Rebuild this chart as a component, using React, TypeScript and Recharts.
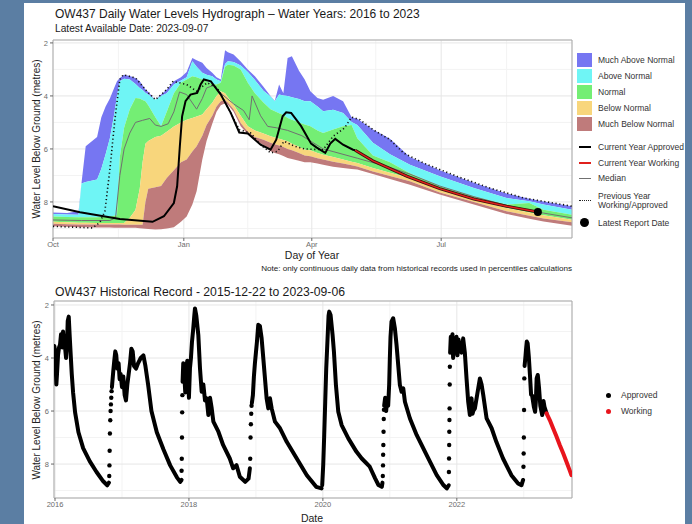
import React from "react";
import {
  ComposedChart,
  Area,
  Line,
  Scatter,
  XAxis,
  YAxis,
  CartesianGrid,
  ReferenceDot,
  ReferenceArea,
} from "recharts";

const FONT = "'Liberation Sans', Arial, Helvetica, sans-serif";

// ---------- hydrograph (top panel) ----------
const monthTicks = [0, 92, 182, 273];
const monthLabels = ["Oct", "Jan", "Apr", "Jul"];
const monthMinor = [46, 137, 227, 319];
const levelTicks = [2, 4, 6, 8];
const levelMinor = [3, 5, 7, 9];

const dayOfYear = [
  0, 10, 18, 20, 23, 31, 34, 37, 40, 43, 45, 47, 50, 54, 58, 61, 63, 65, 67, 72, 76, 80, 85, 90, 94, 98, 101, 105,
  108, 112, 115, 118, 121, 123, 127, 132, 137, 142, 148, 153, 156, 159, 162, 165, 168, 173, 177, 181, 186, 190, 197,
  204, 210, 214, 225, 237, 251, 272, 296, 319, 335, 345, 365,
];
const pMin = [
  8.4, 8.42, 8.35, 7.3, 5.9, 5.55, 4.8, 4.4, 4.1, 3.7, 3.45, 3.32, 3.2, 3.25, 3.32, 3.45, 3.6, 3.75, 3.85, 4.14, 3.95,
  3.76, 3.45, 3.3, 3.1, 2.57, 2.65, 2.75, 2.95, 3.13, 3.3, 3.38, 2.28, 2.35, 2.44, 2.7, 3.0, 3.26, 3.65, 4.0, 4.18,
  3.57, 3.9, 2.57, 2.5, 3.05, 3.38, 3.82, 4.08, 4.14, 4.0, 4.2, 4.8, 4.86, 5.27, 5.62, 6.3, 6.8, 7.28, 7.68, 7.88,
  7.98, 8.16,
];
const p10 = [
  8.45, 8.47, 8.48, 7.3, 7.25, 7.15, 6.75, 6.2, 5.6, 4.7, 4.0, 3.45, 3.35, 3.38, 3.55, 3.7, 3.78, 3.88, 3.95, 4.14,
  4.0, 3.9, 3.57, 3.42, 3.3, 2.69, 2.9, 3.13, 3.2, 3.26, 3.38, 3.45, 2.8, 2.69, 2.72, 2.85, 3.1, 3.4, 3.8, 4.02, 4.2,
  3.95, 3.98, 4.0, 4.05, 4.12, 4.2, 4.2, 4.4, 4.58, 4.52, 4.64, 4.98, 5.1, 5.77, 6.2, 6.6, 7.03, 7.47, 7.85, 7.97,
  8.1, 8.29,
];
const p25 = [
  8.55, 8.57, 8.58, 8.58, 8.58, 8.58, 8.57, 8.56, 8.55, 8.52, 8.5, 6.3, 5.2, 4.5, 4.08, 4.1, 4.15, 4.2, 4.35, 4.8,
  5.14, 4.6, 3.9, 3.5, 3.38, 3.26, 3.3, 3.38, 3.45, 3.55, 3.57, 3.5, 2.9, 2.82, 2.85, 3.0, 3.5, 3.9, 4.25, 4.5, 4.58,
  4.65, 4.72, 4.83, 4.9, 5.0, 5.08, 5.14, 5.3, 5.4, 5.27, 5.14, 5.1, 5.6, 6.25, 6.5, 6.92, 7.41, 7.79, 8.1, 8.04,
  8.29, 8.48,
];
const p75 = [
  8.75, 8.77, 8.78, 8.78, 8.78, 8.79, 8.79, 8.79, 8.79, 8.79, 8.79, 8.79, 8.79, 8.6, 8.3, 7.5, 6.5, 5.8, 5.7, 5.55,
  5.5, 5.35, 5.15, 5.0, 4.9, 4.83, 4.78, 4.7, 4.5, 4.26, 4.0, 3.82, 3.9, 4.05, 4.33, 4.75, 5.14, 5.3, 5.42, 5.52,
  5.57, 5.62, 5.66, 5.71, 5.8, 5.92, 6.03, 6.05, 6.15, 6.22, 6.3, 6.4, 6.48, 6.53, 6.72, 6.9, 7.1, 7.53, 7.91, 8.23,
  8.4, 8.5, 8.67,
];
const p90 = [
  8.82, 8.84, 8.85, 8.85, 8.85, 8.85, 8.85, 8.85, 8.85, 8.85, 8.85, 8.85, 8.86, 8.86, 8.86, 8.86, 8.86, 8.0, 7.5,
  7.45, 7.4, 7.1, 6.8, 6.5, 6.4, 6.1, 5.9, 5.5, 5.1, 4.75, 4.4, 4.2, 4.15, 4.25, 4.5, 5.02, 5.35, 5.55, 5.65, 5.77,
  5.82, 5.87, 5.93, 6.0, 6.05, 6.15, 6.25, 6.28, 6.35, 6.4, 6.48, 6.55, 6.62, 6.66, 6.85, 7.02, 7.22, 7.64, 8.0,
  8.35, 8.52, 8.62, 8.77,
];
const pMax = [
  8.92, 8.94, 8.95, 8.95, 8.95, 8.96, 8.96, 8.96, 8.96, 8.97, 8.97, 8.97, 8.97, 8.97, 8.97, 8.99, 9.0, 9.01, 9.02,
  9.04, 9.03, 9.0, 8.95, 8.75, 8.55, 8.1, 7.6, 6.4, 5.7, 5.05, 4.6, 4.35, 4.28, 4.33, 4.6, 5.14, 5.45, 5.67, 5.85,
  6.09, 6.15, 6.2, 6.27, 6.34, 6.38, 6.45, 6.5, 6.5, 6.55, 6.6, 6.67, 6.72, 6.76, 6.78, 6.95, 7.13, 7.35, 7.72, 8.1,
  8.45, 8.63, 8.74, 8.9,
];

const medianLevels = [
  [0, 8.68], [20, 8.7], [40, 8.7], [44, 8.6], [47, 7.0], [50, 6.0], [54, 5.4], [58, 5.0], [63, 4.92], [68, 4.85],
  [72, 5.1], [76, 5.15], [81, 5.05], [85, 4.6], [89, 3.85], [94, 3.95], [101, 4.5], [105, 4.1], [108, 3.7],
  [113, 3.6], [118, 3.9], [127, 4.3], [134, 4.55], [138, 4.9], [140, 4.0], [146, 4.75], [151, 5.15], [157, 5.2],
  [165, 5.3], [175, 5.5], [181, 5.7], [190, 6.0], [197, 6.1], [214, 6.35], [237, 6.7], [251, 6.95], [272, 7.4],
  [296, 7.8], [319, 8.13], [345, 8.42], [365, 8.6],
];
const currentApproved = [
  [0, 8.16], [19, 8.39], [47, 8.64], [70, 8.75], [78, 8.54], [85, 8.04], [87.3, 7.41], [89.2, 5.9], [90.8, 4.77],
  [93.2, 4.2], [96.7, 3.95], [101.4, 3.89], [103.8, 3.57], [106.1, 3.38], [111, 3.45], [118, 3.95], [125, 4.64],
  [131, 5.38], [137, 5.42], [146, 5.84], [153, 6.03], [157, 5.65], [161.5, 4.77], [164, 4.62], [167.5, 4.64],
  [174.5, 5.14], [181.5, 5.8], [185.5, 5.95], [191.5, 6.15], [195, 5.8], [198.5, 5.62], [204, 5.84], [211, 6.03],
  [212.5, 6.05],
];
const currentWorking = [
  [212.5, 6.05], [225, 6.45], [249, 7.03], [272, 7.5], [296, 7.89], [319, 8.16], [341, 8.38],
];
const previousYear = [
  [0, 8.92], [28, 8.98], [33, 8.77], [36.5, 8.35], [40, 6.78], [43.5, 4.9], [47, 3.38], [49.5, 3.2], [58, 3.32],
  [66, 3.82], [72, 4.14], [80, 3.76], [84.5, 3.45], [94, 3.57], [101, 3.82], [108.5, 3.5], [115.5, 3.7],
  [122.5, 4.39], [131, 5.27], [139, 5.4], [146, 5.84], [153, 6.15], [158, 6.09], [162.5, 5.71], [170, 5.9],
  [177, 6.0], [190, 6.03], [197, 5.52], [205, 5.21], [210, 4.8], [216, 4.9], [225, 5.27], [237, 5.65],
  [246.5, 6.15], [260.5, 6.53], [284, 7.03], [307, 7.47], [331, 7.85], [365, 8.16],
];
const latestReport = [341, 8.38];

// ---------- historical record (bottom panel) ----------
const yearTicks = [2016, 2018, 2020, 2022];
const yearMinor = [2017, 2019, 2021, 2023];

const trace2016 = [
  [2015.99, 3.55], [2016.0, 3.7], [2016.01, 4.3], [2016.02, 5.0], [2016.03, 4.6], [2016.045, 3.9], [2016.06, 3.6],
  [2016.075, 3.5], [2016.09, 3.1], [2016.1, 3.3], [2016.11, 3.6], [2016.12, 3.0], [2016.135, 3.5], [2016.15, 3.6],
  [2016.165, 4.0], [2016.18, 3.4], [2016.19, 2.6], [2016.205, 2.44], [2016.22, 3.2], [2016.235, 3.9], [2016.25, 4.6],
  [2016.27, 5.3], [2016.3, 6.05], [2016.35, 6.8], [2016.42, 7.4], [2016.52, 7.9], [2016.62, 8.3], [2016.72, 8.65],
  [2016.78, 8.8], [2016.805, 8.7],
];
const trace2017 = [
  [2016.85, 5.1], [2016.87, 4.5], [2016.885, 4.1], [2016.9, 3.75], [2016.915, 3.9], [2016.93, 4.4], [2016.95, 4.2],
  [2016.965, 4.8], [2016.98, 4.6], [2017.0, 5.1], [2017.02, 4.7], [2017.04, 5.4], [2017.06, 5.6], [2017.08, 5.0],
  [2017.1, 4.6], [2017.12, 4.2], [2017.14, 3.65], [2017.16, 3.75], [2017.18, 4.3], [2017.21, 4.4], [2017.24, 4.2],
  [2017.28, 4.0], [2017.32, 3.9], [2017.35, 4.3], [2017.39, 5.0], [2017.44, 6.0], [2017.52, 6.8], [2017.62, 7.45],
  [2017.72, 8.05], [2017.82, 8.5], [2017.87, 8.67], [2017.89, 8.6],
];
const trace2018 = [
  [2017.905, 4.9], [2017.915, 4.2], [2017.93, 4.6], [2017.945, 5.3], [2017.96, 4.4], [2017.975, 4.1], [2017.99, 5.0],
  [2018.0, 5.5], [2018.015, 4.4], [2018.03, 4.0], [2018.045, 3.4], [2018.065, 2.88], [2018.08, 2.4], [2018.09, 2.13],
  [2018.11, 2.4], [2018.14, 3.13], [2018.165, 4.39], [2018.19, 5.27], [2018.215, 5.0], [2018.24, 5.6],
  [2018.265, 5.52], [2018.29, 6.15], [2018.315, 5.5], [2018.34, 5.9], [2018.365, 6.4], [2018.44, 6.78],
  [2018.51, 7.28], [2018.61, 7.79], [2018.66, 8.16], [2018.71, 8.04], [2018.76, 8.48], [2018.84, 8.67],
  [2018.89, 8.55], [2018.91, 8.16],
];
const trace2019 = [
  [2018.94, 5.7], [2018.955, 5.4], [2018.97, 4.7], [2018.985, 4.2], [2019.0, 3.8], [2019.015, 3.4], [2019.035, 2.75],
  [2019.06, 2.8], [2019.085, 3.25], [2019.11, 4.0], [2019.16, 5.52], [2019.185, 5.9], [2019.21, 5.52],
  [2019.235, 5.9], [2019.285, 6.4], [2019.36, 6.65], [2019.46, 7.16], [2019.61, 7.79], [2019.76, 8.42],
  [2019.9, 8.86], [2019.98, 8.92],
];
const trace2020 = [
  [2019.99, 8.8], [2020.005, 8.04], [2020.02, 6.9], [2020.035, 5.65], [2020.05, 4.4], [2020.07, 3.26],
  [2020.085, 2.4], [2020.095, 2.25], [2020.115, 2.38], [2020.145, 3.13], [2020.165, 3.76], [2020.195, 5.02],
  [2020.23, 6.03], [2020.28, 6.53], [2020.38, 7.03], [2020.5, 7.53], [2020.58, 7.79], [2020.7, 8.1], [2020.78, 8.54],
  [2020.83, 8.79], [2020.88, 8.86], [2020.89, 8.7],
];
const trace2021 = [
  [2020.915, 5.8], [2020.93, 5.5], [2020.945, 6.0], [2020.96, 5.6], [2020.975, 5.8], [2020.99, 5.0], [2021.0, 4.0],
  [2021.01, 3.2], [2021.025, 2.63], [2021.05, 2.5], [2021.075, 2.88], [2021.1, 3.51], [2021.15, 5.02],
  [2021.175, 5.27], [2021.2, 5.14], [2021.225, 5.65], [2021.3, 6.28], [2021.4, 6.9], [2021.55, 7.66],
  [2021.7, 8.42], [2021.8, 8.79], [2021.85, 8.92], [2021.88, 8.8],
];
const trace2022 = [
  [2021.9, 3.8], [2021.91, 3.2], [2021.92, 3.4], [2021.935, 3.1], [2021.945, 4.0], [2021.96, 3.5], [2021.975, 3.7],
  [2021.995, 3.2], [2022.01, 3.9], [2022.025, 3.3], [2022.045, 3.6], [2022.07, 3.8], [2022.095, 3.26],
  [2022.12, 3.8], [2022.145, 4.77], [2022.17, 5.65], [2022.195, 6.15], [2022.21, 5.6], [2022.22, 5.52],
  [2022.235, 6.1], [2022.245, 6.0], [2022.27, 5.9], [2022.295, 5.52], [2022.32, 5.14], [2022.345, 4.77],
  [2022.37, 5.0], [2022.395, 5.4], [2022.445, 6.28], [2022.52, 6.65], [2022.59, 7.16], [2022.69, 7.79],
  [2022.815, 8.42], [2022.915, 8.73], [2022.965, 8.8], [2022.99, 8.6],
];
const trace2023 = [
  [2023.012, 4.3], [2023.027, 3.89], [2023.035, 3.64], [2023.045, 3.38], [2023.058, 3.45], [2023.075, 3.95],
  [2023.092, 4.64], [2023.109, 5.38], [2023.125, 5.42], [2023.15, 5.84], [2023.169, 6.03], [2023.18, 5.65],
  [2023.192, 4.77], [2023.209, 4.64], [2023.228, 5.14], [2023.247, 5.8], [2023.275, 6.15], [2023.294, 5.62],
  [2023.309, 5.84], [2023.34, 6.09],
];
const working2023 = [
  [2023.34, 6.09], [2023.39, 6.35], [2023.438, 6.65], [2023.49, 6.97], [2023.537, 7.28], [2023.59, 7.6],
  [2023.637, 7.91], [2023.68, 8.2], [2023.711, 8.42],
];
const risingDots = [
  [2016.81, 8.45], [2016.813, 8.05], [2016.816, 7.5], [2016.82, 6.85], [2016.825, 6.35], [2016.83, 6.0],
  [2016.835, 5.75], [2016.84, 5.5], [2016.845, 5.25],
  [2017.89, 8.25], [2017.893, 7.8], [2017.896, 7.0], [2017.899, 6.05], [2017.902, 5.4],
  [2018.915, 7.8], [2018.92, 7.0], [2018.925, 6.5], [2018.93, 6.1], [2018.935, 5.8],
  [2020.895, 8.45], [2020.898, 8.05], [2020.9, 7.65], [2020.903, 7.28], [2020.906, 6.78], [2020.909, 6.3],
  [2020.912, 5.95],
  [2021.882, 8.3], [2021.884, 7.79], [2021.886, 7.28], [2021.888, 6.78], [2021.89, 6.34], [2021.892, 5.9],
  [2021.894, 5.0], [2021.896, 4.33],
  [2022.995, 8.1], [2022.998, 7.6], [2023.001, 7.0], [2023.004, 5.96], [2023.008, 4.77],
];

const approvedTraces = [trace2016, trace2017, trace2018, trace2019, trace2020, trace2021, trace2022, trace2023];

const bandRows = dayOfYear.map((day, i) => ({
  day,
  muchAbove: [pMin[i], p10[i]],
  above: [p10[i], p25[i]],
  normal: [p25[i], p75[i]],
  below: [p75[i], p90[i]],
  muchBelow: [p90[i], pMax[i]],
}));
const dayRows = (pts: number[][]) => pts.map(([day, level]) => ({ day, level }));
const yearRows = (pts: number[][]) => pts.map(([t, level]) => ({ t, level }));

const bands = [
  { key: "muchAbove", label: "Much Above Normal", color: "#7676f2" },
  { key: "above", label: "Above Normal", color: "#6ff5f5" },
  { key: "normal", label: "Normal", color: "#74ee74" },
  { key: "below", label: "Below Normal", color: "#f8d67c" },
  { key: "muchBelow", label: "Much Below Normal", color: "#bf7b7b" },
];

const tickStyle = { fontSize: 7.5, fill: "#6b6b6b", fontFamily: FONT };

function Txt({ x, y, size, children, anchor = "start", color = "#1a1a1a", rotate = false }: any) {
  const tx = anchor === "middle" ? "-50%" : anchor === "end" ? "-100%" : "0";
  return (
    <div
      style={{
        position: "absolute",
        left: x,
        top: y,
        fontSize: size,
        lineHeight: 1,
        color,
        whiteSpace: "nowrap",
        transform: rotate ? "translate(-50%, -50%) rotate(-90deg)" : `translate(${tx}, -50%)`,
      }}
    >
      {children}
    </div>
  );
}

function Hydrograph() {
  return (
    <ComposedChart width={692} height={262} data={bandRows} margin={{ top: 40, right: 120, bottom: 4, left: 33 }}>
      <CartesianGrid stroke="#f3f3f3" horizontalValues={levelMinor} verticalValues={monthMinor} />
      <CartesianGrid stroke="#e6e6e6" />
      <XAxis
        dataKey="day"
        type="number"
        domain={[0, 365]}
        ticks={monthTicks}
        tickFormatter={(v: number) => monthLabels[monthTicks.indexOf(v)] ?? ""}
        allowDataOverflow
        axisLine={false}
        tickSize={3}
        tickMargin={1}
        tickLine={{ stroke: "#666" }}
        tick={tickStyle}
        height={20}
      />
      <YAxis
        type="number"
        reversed
        domain={[1.89, 9.36]}
        ticks={levelTicks}
        allowDataOverflow
        axisLine={false}
        tickSize={3}
        tickMargin={2}
        tickLine={{ stroke: "#666" }}
        tick={tickStyle}
        width={20}
      />
      {bands.map((b) => (
        <Area
          key={b.key}
          dataKey={b.key}
          type="linear"
          stroke="none"
          fill={b.color}
          fillOpacity={1}
          isAnimationActive={false}
        />
      ))}
      <Line data={dayRows(medianLevels)} dataKey="level" type="linear" stroke="#707070" strokeWidth={1} dot={false} isAnimationActive={false} />
      <Line data={dayRows(previousYear)} dataKey="level" type="linear" stroke="#111" strokeWidth={1.6} strokeDasharray="1.2 2.6" dot={false} isAnimationActive={false} />
      <Line data={dayRows(currentApproved)} dataKey="level" type="linear" stroke="#000" strokeWidth={2} dot={false} isAnimationActive={false} />
      <Line data={dayRows(currentWorking)} dataKey="level" type="linear" stroke="#3a0d0d" strokeWidth={3} dot={false} isAnimationActive={false} />
      <Line data={dayRows(currentWorking)} dataKey="level" type="linear" stroke="#e0201c" strokeWidth={1.4} dot={false} isAnimationActive={false} />
      <ReferenceDot x={latestReport[0]} y={latestReport[1]} r={4} fill="#000" stroke="none" />
      <ReferenceArea x1={0} x2={365} y1={1.89} y2={9.36} fill="none" stroke="#ababab" strokeWidth={1} />
    </ComposedChart>
  );
}

function HistoricalRecord() {
  return (
    <ComposedChart width={692} height={244} margin={{ top: 31, right: 120, bottom: 2, left: 34 }}>
      <CartesianGrid stroke="#f3f3f3" horizontalValues={levelMinor} verticalValues={yearMinor} />
      <CartesianGrid stroke="#e6e6e6" />
      <XAxis
        dataKey="t"
        type="number"
        domain={[2015.985, 2023.72]}
        ticks={yearTicks}
        allowDataOverflow
        axisLine={false}
        tickSize={3}
        tickMargin={1}
        tickLine={{ stroke: "#666" }}
        tick={tickStyle}
        height={14}
      />
      <YAxis
        type="number"
        reversed
        domain={[1.85, 9.28]}
        ticks={levelTicks}
        allowDataOverflow
        axisLine={false}
        tickSize={3}
        tickMargin={2}
        tickLine={{ stroke: "#666" }}
        tick={tickStyle}
        width={20}
      />
      {approvedTraces.map((tr, i) => (
        <Line
          key={i}
          data={yearRows(tr)}
          dataKey="level"
          type="linear"
          stroke="#000"
          strokeWidth={4}
          strokeLinejoin="round"
          strokeLinecap="round"
          dot={false}
          isAnimationActive={false}
        />
      ))}
      <Line
        data={yearRows(working2023)}
        dataKey="level"
        type="linear"
        stroke="#e8141c"
        strokeWidth={4}
        strokeLinecap="round"
        dot={false}
        isAnimationActive={false}
      />
      <Scatter
        data={yearRows(risingDots)}
        dataKey="level"
        isAnimationActive={false}
        shape={(p: any) => <circle cx={p.cx} cy={p.cy} r={2.2} fill="#000" />}
      />
      <ReferenceArea x1={2015.985} x2={2023.72} y1={1.85} y2={9.28} fill="none" stroke="#ababab" strokeWidth={1} />
    </ComposedChart>
  );
}

export default function App() {
  const legendText = "#333";
  return (
    <div
      style={{
        position: "absolute",
        left: 0,
        top: 0,
        width: 692,
        height: 524,
        background: "#5b7ea3",
        overflow: "hidden",
        fontFamily: FONT,
      }}
    >
      <div style={{ position: "absolute", left: 24, top: 3, width: 661, height: 530, background: "#fff" }} />

      <Txt x={55} y={14} size={12}>OW437 Daily Water Levels Hydrograph – Water Years: 2016 to 2023</Txt>
      <Txt x={55} y={29} size={10.2}>Latest Available Date: 2023-09-07</Txt>

      <div style={{ position: "absolute", left: 0, top: 0 }}>
        <Hydrograph />
      </div>

      <Txt x={37} y={139} size={10} rotate color="#222">Water Level Below Ground (metres)</Txt>
      <Txt x={312} y={255} size={10.5} anchor="middle" color="#222">Day of Year</Txt>
      <Txt x={572} y={269} size={8.1} anchor="end" color="#222">
        Note: only continuous daily data from historical records used in percentiles calculations
      </Txt>

      {bands.map((b, i) => (
        <React.Fragment key={b.key}>
          <div style={{ position: "absolute", left: 577, top: 53 + i * 16, width: 15, height: 14, background: b.color }} />
          <Txt x={598} y={60 + i * 16} size={8.5} color={legendText}>{b.label}</Txt>
        </React.Fragment>
      ))}
      <div style={{ position: "absolute", left: 579, top: 146, width: 12, height: 2, background: "#000" }} />
      <Txt x={598} y={147} size={8.5} color={legendText}>Current Year Approved</Txt>
      <div style={{ position: "absolute", left: 579, top: 162, width: 12, height: 1.5, background: "#e0201c" }} />
      <Txt x={598} y={163} size={8.5} color={legendText}>Current Year Working</Txt>
      <div style={{ position: "absolute", left: 579, top: 178, width: 12, height: 1, background: "#707070" }} />
      <Txt x={598} y={178} size={8.5} color={legendText}>Median</Txt>
      <div style={{ position: "absolute", left: 579, top: 200, width: 12, height: 0, borderTop: "1.5px dotted #222" }} />
      <Txt x={598} y={196} size={8.5} color={legendText}>Previous Year</Txt>
      <Txt x={598} y={205} size={8.5} color={legendText}>Working/Approved</Txt>
      <div style={{ position: "absolute", left: 580, top: 218, width: 9, height: 9, borderRadius: "50%", background: "#000" }} />
      <Txt x={598} y={223} size={8.5} color={legendText}>Latest Report Date</Txt>

      <Txt x={55} y={292} size={12.2}>OW437 Historical Record - 2015-12-22 to 2023-09-06</Txt>

      <div style={{ position: "absolute", left: 0, top: 270 }}>
        <HistoricalRecord />
      </div>

      <Txt x={37} y={400} size={10} rotate color="#222">Water Level Below Ground (metres)</Txt>
      <Txt x={312} y={518} size={10.5} anchor="middle" color="#222">Date</Txt>

      <div style={{ position: "absolute", left: 606, top: 393, width: 5, height: 5, borderRadius: "50%", background: "#000" }} />
      <Txt x={621} y={395} size={8.5} color={legendText}>Approved</Txt>
      <div style={{ position: "absolute", left: 606, top: 409, width: 5, height: 5, borderRadius: "50%", background: "#e8141c" }} />
      <Txt x={621} y={411} size={8.5} color={legendText}>Working</Txt>
    </div>
  );
}
